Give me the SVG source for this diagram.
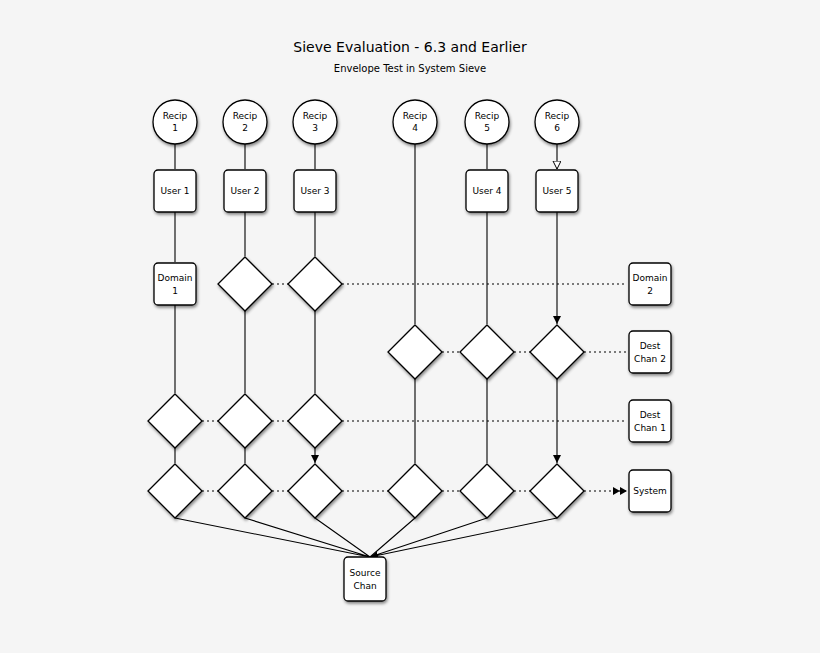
<svg xmlns="http://www.w3.org/2000/svg" width="820" height="653" viewBox="0 0 820 653">
<style>
text{font-family:"DejaVu Sans","Liberation Sans",sans-serif;font-size:9px;fill:#000;text-anchor:middle}
.n{fill:#fff;stroke:#000;stroke-width:1.3;filter:url(#sh)}
.c{stroke:#000;stroke-width:1.1;fill:none}
.s{marker-end:url(#a)}
.h{marker-end:url(#o)}
.d{stroke-dasharray:2 3;marker-end:url(#dd)}
</style>
<defs>
<filter id="sh" x="-30%" y="-30%" width="160%" height="160%"><feDropShadow dx="1" dy="2" stdDeviation="1.5" flood-opacity="0.45"/></filter>
<marker id="a" markerWidth="10" markerHeight="10" refX="8" refY="4" orient="auto" markerUnits="userSpaceOnUse"><path d="M0,0L8,4L0,8z" fill="#000"/></marker>
<marker id="o" markerWidth="10" markerHeight="10" refX="8" refY="4" orient="auto" markerUnits="userSpaceOnUse"><path d="M0,0L8,4L0,8z" fill="#fff" stroke="#000"/></marker>
<marker id="dd" markerWidth="16" markerHeight="10" refX="14" refY="4" orient="auto" markerUnits="userSpaceOnUse"><path d="M0,0L7,4L0,8zM7,0L14,4L7,8z" fill="#000"/></marker>
</defs>
<rect width="820" height="653" fill="#f5f5f5"/>
<text x="410" y="52" style="font-size:14px">Sieve Evaluation - 6.3 and Earlier</text>
<text x="410" y="72" style="font-size:10px">Envelope Test in System Sieve</text>
<g id="connectors">
<path class="c h" d="M175,144V169M245,144V169M315,144V169M487,144V169M557,144V169"/>
<path class="c s" d="M175,212V262M245,212V256M315,212V256M415,144V324M487,212V324M557,212V324"/>
<path class="c s" d="M175,305V393M245,311V393M315,311V393M415,379V463M487,379V463M557,379V463"/>
<path class="c s" d="M175,448V463M245,448V463M315,448V463"/>
<path class="c s" d="M175,518L370,557M245,518L370,557M315,518L370,557M415,518L370,557M487,518L370,557M557,518L370,557"/>
<path class="c" style="stroke-dasharray:2 3" d="M272,284H288M442,352H460M514,352H530M202,421H218M272,421H288M202,491H218M272,491H288M342,491H388M442,491H460M514,491H530"/>
<path class="c d" d="M342,284H627M584,352H627M342,421H627M584,491H627"/>
</g>
<g id="recip1"><circle class="n" cx="175" cy="122" r="22"/><text x="175" y="119">Recip</text><text x="175" y="131">1</text></g>
<g id="recip2"><circle class="n" cx="245" cy="122" r="22"/><text x="245" y="119">Recip</text><text x="245" y="131">2</text></g>
<g id="recip3"><circle class="n" cx="315" cy="122" r="22"/><text x="315" y="119">Recip</text><text x="315" y="131">3</text></g>
<g id="recip4"><circle class="n" cx="415" cy="122" r="22"/><text x="415" y="119">Recip</text><text x="415" y="131">4</text></g>
<g id="recip5"><circle class="n" cx="487" cy="122" r="22"/><text x="487" y="119">Recip</text><text x="487" y="131">5</text></g>
<g id="recip6"><circle class="n" cx="557" cy="122" r="22"/><text x="557" y="119">Recip</text><text x="557" y="131">6</text></g>
<g id="user1"><rect class="n" x="154" y="170" width="42" height="42" rx="4"/><text x="175" y="194">User 1</text></g>
<g id="user2"><rect class="n" x="224" y="170" width="42" height="42" rx="4"/><text x="245" y="194">User 2</text></g>
<g id="user3"><rect class="n" x="294" y="170" width="42" height="42" rx="4"/><text x="315" y="194">User 3</text></g>
<g id="user4"><rect class="n" x="466" y="170" width="42" height="42" rx="4"/><text x="487" y="194">User 4</text></g>
<g id="user5"><rect class="n" x="536" y="170" width="42" height="42" rx="4"/><text x="557" y="194">User 5</text></g>
<g id="domain1"><rect class="n" x="154" y="263" width="42" height="42" rx="4"/><text x="175" y="281">Domain</text><text x="175" y="294">1</text></g>
<g id="domain2"><rect class="n" x="629" y="263" width="42" height="42" rx="4"/><text x="650" y="281">Domain</text><text x="650" y="294">2</text></g>
<g id="destchan2"><rect class="n" x="629" y="331" width="42" height="42" rx="4"/><text x="650" y="349">Dest</text><text x="650" y="362">Chan 2</text></g>
<g id="destchan1"><rect class="n" x="629" y="400" width="42" height="42" rx="4"/><text x="650" y="418">Dest</text><text x="650" y="431">Chan 1</text></g>
<g id="system"><rect class="n" x="629" y="470" width="42" height="42" rx="4"/><text x="650" y="494">System</text></g>
<g id="sourcechan"><rect class="n" x="344" y="557" width="42" height="44" rx="4"/><text x="365" y="576">Source</text><text x="365" y="589">Chan</text></g>
<g id="d-r1-2"><path class="n" d="M245,257L272,284L245,311L218,284z"/></g>
<g id="d-r1-3"><path class="n" d="M315,257L342,284L315,311L288,284z"/></g>
<g id="d-r2-4"><path class="n" d="M415,325L442,352L415,379L388,352z"/></g>
<g id="d-r2-5"><path class="n" d="M487,325L514,352L487,379L460,352z"/></g>
<g id="d-r2-6"><path class="n" d="M557,325L584,352L557,379L530,352z"/></g>
<g id="d-r3-1"><path class="n" d="M175,394L202,421L175,448L148,421z"/></g>
<g id="d-r3-2"><path class="n" d="M245,394L272,421L245,448L218,421z"/></g>
<g id="d-r3-3"><path class="n" d="M315,394L342,421L315,448L288,421z"/></g>
<g id="d-r4-1"><path class="n" d="M175,464L202,491L175,518L148,491z"/></g>
<g id="d-r4-2"><path class="n" d="M245,464L272,491L245,518L218,491z"/></g>
<g id="d-r4-3"><path class="n" d="M315,464L342,491L315,518L288,491z"/></g>
<g id="d-r4-4"><path class="n" d="M415,464L442,491L415,518L388,491z"/></g>
<g id="d-r4-5"><path class="n" d="M487,464L514,491L487,518L460,491z"/></g>
<g id="d-r4-6"><path class="n" d="M557,464L584,491L557,518L530,491z"/></g>
</svg>
